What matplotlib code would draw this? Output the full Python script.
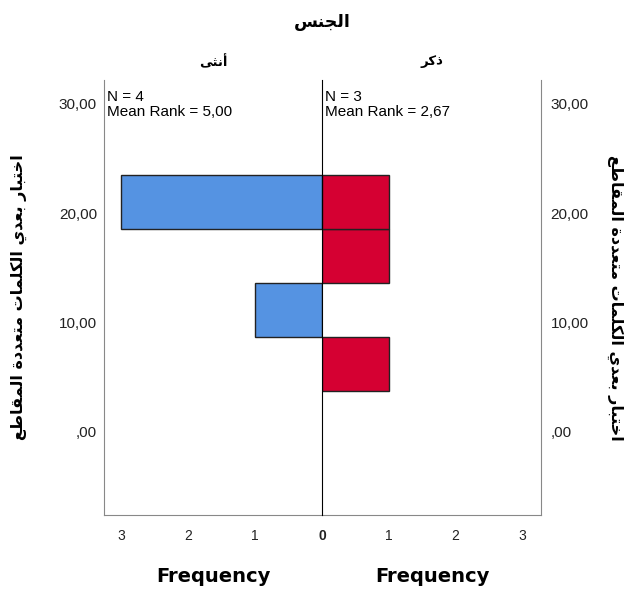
import matplotlib
matplotlib.use("Agg")
import matplotlib.pyplot as plt

# ---- data ----
bin_edges = [3.7, 8.65, 13.6, 18.55, 23.5]
female_counts = [0, 1, 0, 3]   # أنثى
male_counts = [1, 0, 1, 1]     # ذكر
female_stats = ["N = 4", "Mean Rank = 5,00"]
male_stats = ["N = 3", "Mean Rank = 2,67"]
y_ticks = [0, 10, 20, 30]
y_ticklabels = [",00", "10,00", "20,00", "30,00"]

title_txt = "الجنس"
female_txt = "أنثى"
male_txt = "ذكر"
ylabel_txt = "اختبار بعدي الكلمات متعددة المقاطع"

# minimal arabic shaping (matplotlib has no bidi/shaping)
FORMS = {
    'ا': ('\uFE8D', '\uFE8E', None, None),
    'أ': ('\uFE83', '\uFE84', None, None),
    'ب': ('\uFE8F', '\uFE90', '\uFE91', '\uFE92'),
    'ة': ('\uFE93', '\uFE94', None, None),
    'ت': ('\uFE95', '\uFE96', '\uFE97', '\uFE98'),
    'ث': ('\uFE99', '\uFE9A', '\uFE9B', '\uFE9C'),
    'ج': ('\uFE9D', '\uFE9E', '\uFE9F', '\uFEA0'),
    'خ': ('\uFEA5', '\uFEA6', '\uFEA7', '\uFEA8'),
    'د': ('\uFEA9', '\uFEAA', None, None),
    'ذ': ('\uFEAB', '\uFEAC', None, None),
    'ر': ('\uFEAD', '\uFEAE', None, None),
    'س': ('\uFEB1', '\uFEB2', '\uFEB3', '\uFEB4'),
    'ط': ('\uFEC1', '\uFEC2', '\uFEC3', '\uFEC4'),
    'ع': ('\uFEC9', '\uFECA', '\uFECB', '\uFECC'),
    'ق': ('\uFED5', '\uFED6', '\uFED7', '\uFED8'),
    'ك': ('\uFED9', '\uFEDA', '\uFEDB', '\uFEDC'),
    'ل': ('\uFEDD', '\uFEDE', '\uFEDF', '\uFEE0'),
    'م': ('\uFEE1', '\uFEE2', '\uFEE3', '\uFEE4'),
    'ن': ('\uFEE5', '\uFEE6', '\uFEE7', '\uFEE8'),
    'ى': ('\uFEEF', '\uFEF0', None, None),
    'ي': ('\uFEF1', '\uFEF2', '\uFEF3', '\uFEF4'),
}


def shape(text):
    out = []
    for i, ch in enumerate(text):
        if ch not in FORMS:
            out.append(ch)
            continue
        iso, fin, ini, med = FORMS[ch]
        prev = text[i - 1] if i > 0 else ''
        nxt = text[i + 1] if i + 1 < len(text) else ''
        join_prev = prev in FORMS and FORMS[prev][2] is not None
        join_next = nxt in FORMS and ini is not None
        if join_prev and join_next:
            out.append(med)
        elif join_prev:
            out.append(fin)
        elif join_next:
            out.append(ini)
        else:
            out.append(iso)
    return ''.join(reversed(out))


plt.rcParams['font.family'] = ['Liberation Sans', 'DejaVu Sans']
AR = ['DejaVu Sans']

W, H = 635, 594
fig = plt.figure(figsize=(W / 100, H / 100), dpi=100)
fig.patch.set_facecolor("white")

top, bottom = 80, 515
x_left, x_mid, x_right = 104, 322, 541
axL = fig.add_axes([x_left / W, (H - bottom) / H, (x_mid - x_left) / W, (bottom - top) / H])
axR = fig.add_axes([x_mid / W, (H - bottom) / H, (x_right - x_mid) / W, (bottom - top) / H])

blue = "#5593e2"
red = "#d50032"
edge = "#222222"
frame = "#888888"

ylim = (-7.7, 32.2)
widths = [bin_edges[i + 1] - bin_edges[i] for i in range(len(bin_edges) - 1)]

for i, c in enumerate(female_counts):
    if c > 0:
        axL.barh(bin_edges[i], c, height=widths[i], align='edge',
                 color=blue, edgecolor=edge, linewidth=1)
for i, c in enumerate(male_counts):
    if c > 0:
        axR.barh(bin_edges[i], c, height=widths[i], align='edge',
                 color=red, edgecolor=edge, linewidth=1)

axL.set_xlim(3.26, 0)
axR.set_xlim(0, 3.28)
for ax in (axL, axR):
    ax.set_ylim(*ylim)
    ax.spines['top'].set_visible(False)
    ax.spines['bottom'].set_color(frame)
    ax.tick_params(length=0, labelsize=10, colors="#222222")
    ax.tick_params(axis='x', pad=10)

axL.spines['left'].set_color(frame)
axL.spines['right'].set_visible(False)
axR.spines['left'].set_color("black")
axR.spines['left'].set_zorder(5)
axR.spines['right'].set_color(frame)

axL.set_xticks([3, 2, 1, 0])
axL.set_xticklabels(["3", "2", "1", "0"])
axL.get_xticklabels()[-1].set_fontweight('bold')
axR.set_xticks([1, 2, 3])
axR.set_xticklabels(["1", "2", "3"])

axL.set_yticks(y_ticks)
axL.set_yticklabels(y_ticklabels, fontsize=11)
axL.tick_params(axis='y', pad=5)
axR.yaxis.tick_right()
axR.set_yticks(y_ticks)
axR.set_yticklabels(y_ticklabels, fontsize=11)
axR.tick_params(axis='y', pad=7)

# N / mean rank annotations
axL.text(0.012, 0.978, female_stats[0] + "\n" + female_stats[1], transform=axL.transAxes,
         ha='left', va='top', fontsize=11, linespacing=1.12)
axR.text(0.012, 0.978, male_stats[0] + "\n" + male_stats[1], transform=axR.transAxes,
         ha='left', va='top', fontsize=11, linespacing=1.12)

# titles
fig.text(322 / W, 1 - 22 / H, shape(title_txt), ha='center', va='center',
         fontsize=12.5, fontweight='bold', family=AR)
fig.text(213 / W, 1 - 62 / H, shape(female_txt), ha='center', va='center',
         fontsize=9.5, fontweight='bold', family=AR)
fig.text(432 / W, 1 - 62 / H, shape(male_txt), ha='center', va='center',
         fontsize=9.5, fontweight='bold', family=AR)

# x labels
fig.text(213 / W, 1 - 577 / H, "Frequency", ha='center', va='center',
         fontsize=14, fontweight='bold', family=['DejaVu Sans'])
fig.text(432 / W, 1 - 577 / H, "Frequency", ha='center', va='center',
         fontsize=14, fontweight='bold', family=['DejaVu Sans'])

# y labels
fig.text(19 / W, 1 - 297 / H, shape(ylabel_txt), ha='center', va='center',
         rotation=90, fontsize=11.5, fontweight='bold', family=AR)
fig.text(615 / W, 1 - 298 / H, shape(ylabel_txt), ha='center', va='center',
         rotation=270, fontsize=11.5, fontweight='bold', family=AR)

fig.savefig("out.png", dpi=100)
